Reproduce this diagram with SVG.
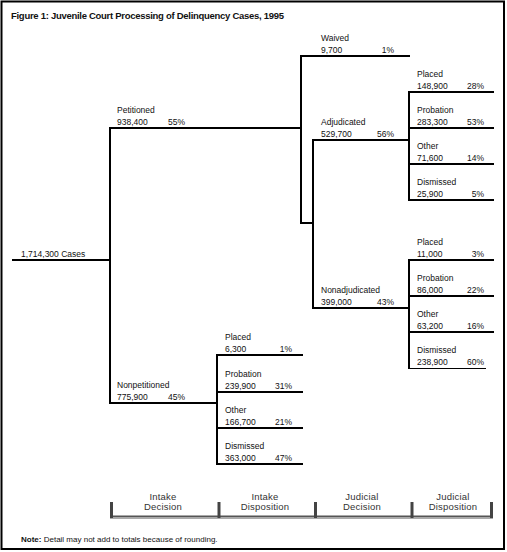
<svg xmlns="http://www.w3.org/2000/svg" width="507" height="552" viewBox="0 0 507 552">
<style>
text{font-family:"Liberation Sans",Arial,sans-serif;font-size:8.5px;fill:#111}
.pct{text-anchor:end}
.title{font-size:9.5px;font-weight:bold}
.note{font-size:8px}
.stage{font-size:9.5px;fill:#333;text-anchor:middle;letter-spacing:0.2px}
.ln{fill:none;stroke:#000;stroke-width:2;stroke-linecap:square}
.thin{fill:none;stroke:#000;stroke-width:1}
.tick{stroke:#444;stroke-width:3}
</style>
<rect x="1.5" y="1.5" width="502.5" height="547.5" fill="#fff" stroke="#000" stroke-width="2"/>
<text class="title" x="11" y="19" textLength="273" lengthAdjust="spacing">Figure 1: Juvenile Court Processing of Delinquency Cases, 1995</text>

<g id="connectors">
<path class="ln" d="M13 260H110M110 128V403M110 128H301M110 403H217"/>
<path class="ln" d="M301 56V223M301 56H409M301 223H313M313 140V308M313 140H409M313 308H409"/>
<path class="ln" d="M409 92V200M409 92H493M409 128H493M409 164H493M409 200H493"/>
<path class="ln" d="M409 260V368M409 260H493M409 296H493M409 332H493"/>
<path class="thin" d="M409 368.5H486"/>
<path class="ln" d="M217 355V464M217 355H302M217 392H302M217 428H302M217 464H302"/>
</g>

<g id="root"><text x="21" y="257">1,714,300 Cases</text></g>
<g id="petitioned"><text x="117" y="113">Petitioned</text><text x="117" y="125">938,400</text><text class="pct" x="185" y="125">55%</text></g>
<g id="nonpetitioned"><text x="117" y="388">Nonpetitioned</text><text x="117" y="400">775,900</text><text class="pct" x="185" y="400">45%</text></g>

<g id="waived"><text x="321" y="41">Waived</text><text x="321" y="53">9,700</text><text class="pct" x="394" y="53">1%</text></g>
<g id="adjudicated"><text x="321" y="125">Adjudicated</text><text x="321" y="137">529,700</text><text class="pct" x="394" y="137">56%</text></g>
<g id="nonadjudicated"><text x="321" y="293">Nonadjudicated</text><text x="321" y="305">399,000</text><text class="pct" x="394" y="305">43%</text></g>

<g id="adj-placed"><text x="417" y="77">Placed</text><text x="417" y="89">148,900</text><text class="pct" x="484" y="89">28%</text></g>
<g id="adj-probation"><text x="417" y="113">Probation</text><text x="417" y="125">283,300</text><text class="pct" x="484" y="125">53%</text></g>
<g id="adj-other"><text x="417" y="149">Other</text><text x="417" y="161">71,600</text><text class="pct" x="484" y="161">14%</text></g>
<g id="adj-dismissed"><text x="417" y="185">Dismissed</text><text x="417" y="197">25,900</text><text class="pct" x="484" y="197">5%</text></g>

<g id="nonadj-placed"><text x="417" y="245">Placed</text><text x="417" y="257">11,000</text><text class="pct" x="484" y="257">3%</text></g>
<g id="nonadj-probation"><text x="417" y="281">Probation</text><text x="417" y="293">86,000</text><text class="pct" x="484" y="293">22%</text></g>
<g id="nonadj-other"><text x="417" y="317">Other</text><text x="417" y="329">63,200</text><text class="pct" x="484" y="329">16%</text></g>
<g id="nonadj-dismissed"><text x="417" y="353">Dismissed</text><text x="417" y="365">238,900</text><text class="pct" x="484" y="365">60%</text></g>

<g id="nonpet-placed"><text x="225" y="340">Placed</text><text x="225" y="352">6,300</text><text class="pct" x="292" y="352">1%</text></g>
<g id="nonpet-probation"><text x="225" y="377">Probation</text><text x="225" y="389">239,900</text><text class="pct" x="292" y="389">31%</text></g>
<g id="nonpet-other"><text x="225" y="413">Other</text><text x="225" y="425">166,700</text><text class="pct" x="292" y="425">21%</text></g>
<g id="nonpet-dismissed"><text x="225" y="449">Dismissed</text><text x="225" y="461">363,000</text><text class="pct" x="292" y="461">47%</text></g>

<g id="stages">
<line x1="110" y1="516.5" x2="493" y2="516.5" stroke="#555" stroke-width="2"/>
<line x1="110" y1="518.5" x2="493" y2="518.5" stroke="#aaa" stroke-width="1"/>
<line class="tick" x1="111.5" y1="502" x2="111.5" y2="518"/>
<line class="tick" x1="219" y1="502" x2="219" y2="518"/>
<line class="tick" x1="315.5" y1="502" x2="315.5" y2="518"/>
<line class="tick" x1="412" y1="502" x2="412" y2="518"/>
<line class="tick" x1="491.5" y1="502" x2="491.5" y2="518"/>
<text class="stage" x="163" y="500">Intake</text><text class="stage" x="163" y="510">Decision</text>
<text class="stage" x="265" y="500">Intake</text><text class="stage" x="265" y="510">Disposition</text>
<text class="stage" x="362" y="500">Judicial</text><text class="stage" x="362" y="510">Decision</text>
<text class="stage" x="453" y="500">Judicial</text><text class="stage" x="453" y="510">Disposition</text>
</g>

<text class="note" x="21" y="542"><tspan font-weight="bold">Note:</tspan> Detail may not add to totals because of rounding.</text>
</svg>
